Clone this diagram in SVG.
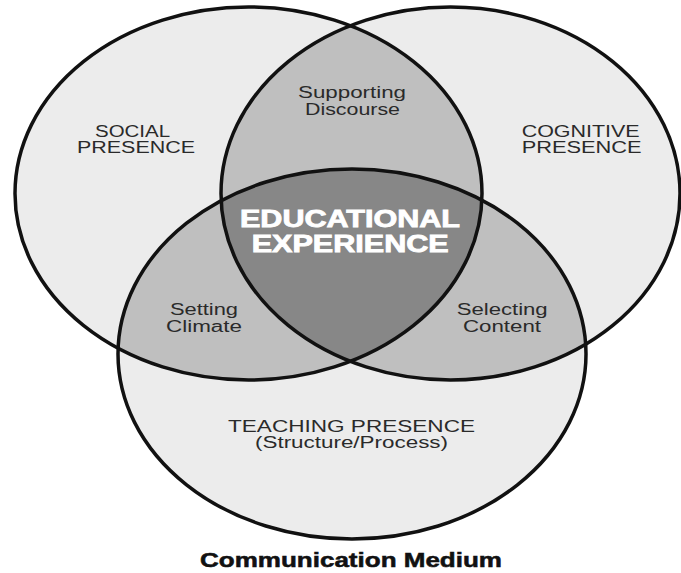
<svg xmlns="http://www.w3.org/2000/svg" width="681" height="573" viewBox="0 0 681 573">
<style>
.fill-out{fill:#ececec;}
.fill-lens{fill:#bfbfbf;}
.fill-core{fill:#878787;}
.edge{fill:none;stroke:#111;stroke-width:3.5;}
.lbl{font-family:"Liberation Sans",Arial,sans-serif;font-size:16px;fill:#2a2a2a;}
.core{font-family:"Liberation Sans",Arial,sans-serif;font-size:23px;font-weight:700;fill:#ffffff;stroke:#ffffff;stroke-width:0.8;}
.title{font-family:"Liberation Sans",Arial,sans-serif;font-size:19.5px;font-weight:700;fill:#111;stroke:#111;stroke-width:0.5;}
</style>
<defs>
<clipPath id="cL"><ellipse cx="248.5" cy="193.5" rx="233.5" ry="186.5"/></clipPath>
<clipPath id="cR"><ellipse cx="450.5" cy="193.5" rx="229.5" ry="186.5"/></clipPath>
<clipPath id="cLR" clip-path="url(#cL)"><ellipse cx="450.5" cy="193.5" rx="229.5" ry="186.5"/></clipPath>
</defs>
<rect width="681" height="573" fill="#ffffff"/>
<g id="social-presence">
<ellipse class="fill-out" cx="248.5" cy="193.5" rx="233.5" ry="186.5"/>
</g>
<g id="cognitive-presence">
<ellipse class="fill-out" cx="450.5" cy="193.5" rx="229.5" ry="186.5"/>
</g>
<g id="teaching-presence">
<ellipse class="fill-out" cx="352" cy="354" rx="234" ry="185"/>
</g>
<g id="supporting-discourse">
<ellipse class="fill-lens" cx="450.5" cy="193.5" rx="229.5" ry="186.5" clip-path="url(#cL)"/>
</g>
<g id="setting-climate">
<ellipse class="fill-lens" cx="352" cy="354" rx="234" ry="185" clip-path="url(#cL)"/>
</g>
<g id="selecting-content">
<ellipse class="fill-lens" cx="352" cy="354" rx="234" ry="185" clip-path="url(#cR)"/>
</g>
<g id="educational-experience">
<ellipse class="fill-core" cx="352" cy="354" rx="234" ry="185" clip-path="url(#cLR)"/>
</g>
<g id="outlines">
<ellipse class="edge" cx="248.5" cy="193.5" rx="233.5" ry="186.5"/>
<ellipse class="edge" cx="450.5" cy="193.5" rx="229.5" ry="186.5"/>
<ellipse class="edge" cx="352" cy="354" rx="234" ry="185"/>
</g>
<g id="connectors"/>
<g id="labels">
<text class="lbl" x="95" y="136.5" textLength="75" lengthAdjust="spacingAndGlyphs">SOCIAL</text>
<text class="lbl" x="77" y="152.7" textLength="118" lengthAdjust="spacingAndGlyphs">PRESENCE</text>
<text class="lbl" x="298" y="98" textLength="108" lengthAdjust="spacingAndGlyphs">Supporting</text>
<text class="lbl" x="305" y="115" textLength="95" lengthAdjust="spacingAndGlyphs">Discourse</text>
<text class="lbl" x="521.7" y="136.5" textLength="118" lengthAdjust="spacingAndGlyphs">COGNITIVE</text>
<text class="lbl" x="521.7" y="152.7" textLength="120" lengthAdjust="spacingAndGlyphs">PRESENCE</text>
<text class="lbl" x="170" y="315" textLength="68" lengthAdjust="spacingAndGlyphs">Setting</text>
<text class="lbl" x="166" y="332" textLength="76" lengthAdjust="spacingAndGlyphs">Climate</text>
<text class="lbl" x="456.7" y="315" textLength="91" lengthAdjust="spacingAndGlyphs">Selecting</text>
<text class="lbl" x="463" y="332" textLength="78" lengthAdjust="spacingAndGlyphs">Content</text>
<text class="lbl" x="228" y="431.5" textLength="247" lengthAdjust="spacingAndGlyphs">TEACHING PRESENCE</text>
<text class="lbl" x="255" y="447.5" textLength="193" lengthAdjust="spacingAndGlyphs">(Structure/Process)</text>
<text class="core" x="240" y="226.7" textLength="220" lengthAdjust="spacingAndGlyphs">EDUCATIONAL</text>
<text class="core" x="251.7" y="251.7" textLength="197" lengthAdjust="spacingAndGlyphs">EXPERIENCE</text>
<text class="title" x="200" y="566.7" textLength="302" lengthAdjust="spacingAndGlyphs">Communication Medium</text>
</g>
</svg>
